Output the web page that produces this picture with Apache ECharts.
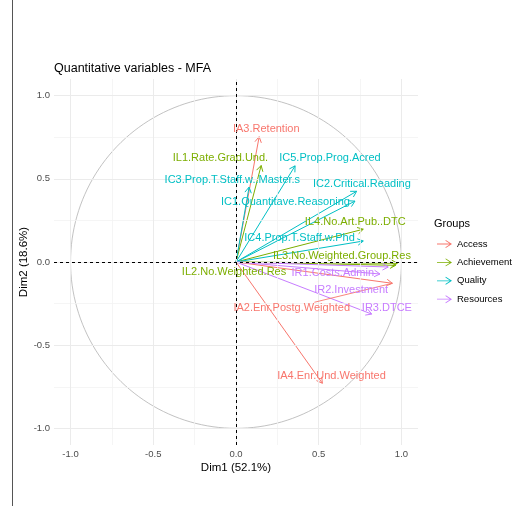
<!DOCTYPE html>
<html>
<head>
<meta charset="utf-8">
<script src="https://cdn.jsdelivr.net/npm/echarts@6/dist/echarts.min.js"></script>
<style>
  html, body { margin: 0; padding: 0; background: #ffffff; }
  #chart { width: 512px; height: 518px; }
</style>
</head>
<body>
<div id="chart"></div>
<script>
// Variable groups and their colours
const groups = ['Access', 'Achievement', 'Quality', 'Resources'];
const groupColors = ['#F8766D', '#7CAE00', '#00BFC4', '#C77CFF'];

// Quantitative variables and their group membership
const varNames = [
  'IA2.Enr.Postg.Weighted', 'IA3.Retention', 'IA4.Enr.Und.Weighted',
  'IL1.Rate.Grad.Und.', 'IL2.No.Weighted.Res', 'IL3.No.Weighted.Group.Res', 'IL4.No.Art.Pub..DTC',
  'IC1.Quantitave.Reasoning', 'IC2.Critical.Reading', 'IC3.Prop.T.Staff.w..Master.s',
  'IC4.Prop.T.Staff.w.Phd', 'IC5.Prop.Prog.Acred',
  'IR1.Costs.Admin', 'IR2.Investment', 'IR3.DTCE'
];
const varGroups = [
  'Access', 'Access', 'Access',
  'Achievement', 'Achievement', 'Achievement', 'Achievement',
  'Quality', 'Quality', 'Quality', 'Quality', 'Quality',
  'Resources', 'Resources', 'Resources'
];

// Correlations with the first two dimensions
const dim1 = [0.945, 0.140, 0.522, 0.152, 0.965, 0.975, 0.769, 0.719, 0.729, 0.079, 0.769, 0.357, 0.870, 0.920, 0.820];
const dim2 = [-0.128, 0.753, -0.729, 0.580, -0.020, -0.008, 0.197, 0.366, 0.425, 0.450, 0.126, 0.578, -0.072, -0.030, -0.313];

// Repelled label anchors (data units) and which labels get a leader segment
const labelX = [0.337, 0.183, 0.577, -0.094, -0.012, 0.640, 0.721, 0.299, 0.761, -0.022, 0.384, 0.568, 0.585, 0.696, 0.912];
const labelY = [-0.275, 0.801, -0.685, 0.625, -0.058, 0.036, 0.243, 0.363, 0.468, 0.494, 0.146, 0.628, -0.066, -0.169, -0.275];
const labelLink = [1, 0, 0, 0, 0, 0, 0, 0, 0, 0, 0, 0, 0, 0, 0];

// Axis ticks
const majorTicks = [-1, -0.5, 0, 0.5, 1];
const minorTicks = [-0.75, -0.25, 0.25, 0.75];

const FONT = '"Liberation Sans", Arial, sans-serif';
const LABEL_FONT_SIZE = 11;

// Unit correlation circle
const circlePts = [];
for (let k = 0; k <= 360; k += 2) {
  const t = k * Math.PI / 180;
  circlePts.push([Math.cos(t), Math.sin(t)]);
}

const measureCtx = document.createElement('canvas').getContext('2d');
measureCtx.font = LABEL_FONT_SIZE + 'px ' + FONT;

function arrowItem(params, api) {
  const o = api.coord([0, 0]);
  const p = api.coord([api.value(0), api.value(1)]);
  const ang = Math.atan2(p[1] - o[1], p[0] - o[0]);
  const len = 6.5, spread = Math.PI / 6;
  const a1 = [p[0] - len * Math.cos(ang - spread), p[1] - len * Math.sin(ang - spread)];
  const a2 = [p[0] - len * Math.cos(ang + spread), p[1] - len * Math.sin(ang + spread)];
  const color = api.visual('color');
  return {
    type: 'group',
    children: [
      { type: 'line', shape: { x1: o[0], y1: o[1], x2: p[0], y2: p[1] }, style: { stroke: color, lineWidth: 1 } },
      { type: 'polyline', shape: { points: [a1, p, a2] }, style: { stroke: color, fill: null, lineWidth: 1 } }
    ]
  };
}

function labelItem(params, api) {
  const i = api.value(2);
  const c = api.coord([api.value(0), api.value(1)]);
  const color = groupColors[groups.indexOf(varGroups[i])];
  const children = [];
  if (labelLink[i]) {
    const tip = api.coord([dim1[i], dim2[i]]);
    const hw = measureCtx.measureText(varNames[i]).width / 2 + 1;
    const hh = LABEL_FONT_SIZE / 2;
    const dx = tip[0] - c[0], dy = tip[1] - c[1];
    const s = Math.min(Math.abs(hw / (dx || 1e-9)), Math.abs(hh / (dy || 1e-9)));
    const start = [c[0] + dx * s, c[1] + dy * s];
    children.push({ type: 'line', shape: { x1: start[0], y1: start[1], x2: tip[0], y2: tip[1] }, style: { stroke: color, lineWidth: 0.9 } });
  }
  children.push({
    type: 'text', x: c[0], y: c[1],
    style: { text: varNames[i], fill: color, fontSize: LABEL_FONT_SIZE, fontFamily: FONT, align: 'center', verticalAlign: 'middle' }
  });
  return { type: 'group', children };
}

const gridLines = [];
minorTicks.forEach(v => {
  gridLines.push({ xAxis: v, lineStyle: { color: '#F3F3F3', width: 0.8, type: 'solid' } });
  gridLines.push({ yAxis: v, lineStyle: { color: '#F3F3F3', width: 0.8, type: 'solid' } });
});
majorTicks.forEach(v => {
  gridLines.push({ xAxis: v, lineStyle: { color: '#EBEBEB', width: 1, type: 'solid' } });
  gridLines.push({ yAxis: v, lineStyle: { color: '#EBEBEB', width: 1, type: 'solid' } });
});

const arrowSeries = groups.map((g, gi) => ({
  name: g,
  type: 'custom',
  renderItem: arrowItem,
  itemStyle: { color: groupColors[gi] },
  encode: { x: 0, y: 1 },
  z: 4,
  silent: true,
  data: dim1.map((v, i) => [v, dim2[i], i]).filter(d => varGroups[d[2]] === g)
}));

const axisCommon = {
  type: 'value', min: -1.1, max: 1.1,
  axisLine: { show: false },
  splitLine: { show: false },
  axisTick: { show: true, length: 3, lineStyle: { color: '#333333', width: 1 }, customValues: majorTicks },
  axisLabel: { customValues: majorTicks, formatter: v => v.toFixed(1), color: '#4D4D4D', fontSize: 9.5, fontFamily: FONT },
  nameLocation: 'middle',
  nameMoveOverlap: false,
  nameTextStyle: { color: '#000000', fontSize: 11.5, fontFamily: FONT }
};

const chart = echarts.init(document.getElementById('chart'), null, { renderer: 'canvas' });
chart.setOption({
  animation: false,
  backgroundColor: '#ffffff',
  title: [
    { text: 'Quantitative variables - MFA', left: 54, top: 62, padding: 0,
      textStyle: { fontSize: 12.5, fontWeight: 'normal', color: '#000000', fontFamily: FONT } },
    { text: 'Groups', left: 434, top: 218, padding: 0,
      textStyle: { fontSize: 11, fontWeight: 'normal', color: '#000000', fontFamily: FONT } }
  ],
  legend: {
    orient: 'vertical', left: 437, top: 239, padding: 0,
    itemWidth: 15, itemHeight: 10, itemGap: 8.4,
    icon: 'path://M0,4.6H13V5.4H0Z M8.5,1.2L14.5,5L8.5,8.8L8.1,8.2L12.9,5L8.1,1.8Z',
    textStyle: { fontSize: 9.5, color: '#000000', fontFamily: FONT },
    data: groups,
    selectedMode: false
  },
  grid: { left: 54, right: 94, top: 79, bottom: 73, containLabel: false },
  xAxis: Object.assign({}, axisCommon, {
    name: 'Dim1 (52.1%)', nameGap: 17,
    axisLabel: Object.assign({}, axisCommon.axisLabel, { margin: 4 })
  }),
  yAxis: Object.assign({}, axisCommon, {
    name: 'Dim2 (18.6%)', nameGap: 24, nameRotate: 90,
    axisLabel: Object.assign({}, axisCommon.axisLabel, { margin: 4 })
  }),
  series: [
    {
      name: 'grid', type: 'line', data: [], z: 1, silent: true,
      markLine: { silent: true, symbol: ['none', 'none'], label: { show: false }, animation: false, data: gridLines }
    },
    {
      name: 'circle', type: 'line', data: circlePts, showSymbol: false, z: 2, silent: true,
      lineStyle: { color: '#B3B3B3', width: 0.8 }
    },
    {
      name: 'origin', type: 'line', data: [], z: 3, silent: true,
      markLine: {
        silent: true, symbol: ['none', 'none'], label: { show: false }, animation: false,
        data: [
          { xAxis: 0, lineStyle: { color: '#000000', width: 1, type: [3, 3] } },
          { yAxis: 0, lineStyle: { color: '#000000', width: 1, type: [3, 3] } }
        ]
      }
    },
    ...arrowSeries,
    {
      name: 'labels', type: 'custom', renderItem: labelItem, z: 5, silent: true,
      encode: { x: 0, y: 1 },
      data: labelX.map((v, i) => [v, labelY[i], i])
    }
  ],
  graphic: [
    { type: 'line', shape: { x1: 12.5, y1: 0, x2: 12.5, y2: 506 }, style: { stroke: '#555555', lineWidth: 1 }, silent: true }
  ]
});
</script>
</body>
</html>
